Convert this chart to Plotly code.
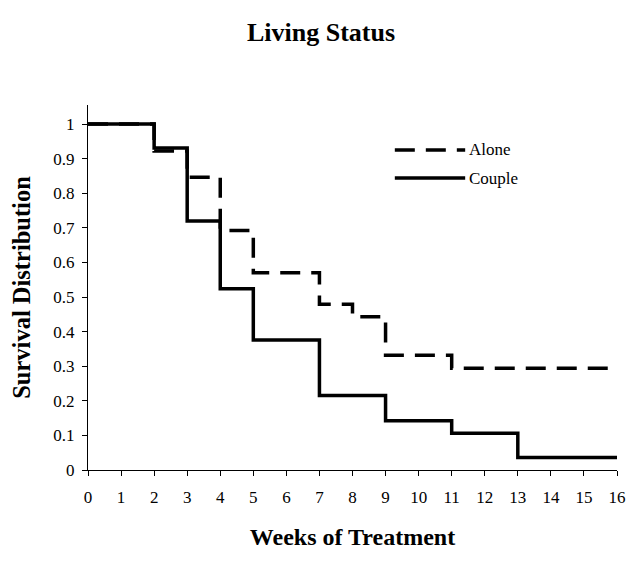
import plotly.graph_objects as go

weeks_alone = [0, 2, 3, 4, 5, 7, 8, 9, 11, 16]
surv_alone = [1.0, 0.922, 0.846, 0.692, 0.570, 0.479, 0.443, 0.332, 0.294, 0.294]
weeks_couple = [0, 2, 3, 4, 5, 7, 9, 11, 13, 16]
surv_couple = [1.0, 0.931, 0.720, 0.524, 0.376, 0.215, 0.142, 0.106, 0.036, 0.036]

x_ticks = list(range(0, 17))
y_ticks = [0, 0.1, 0.2, 0.3, 0.4, 0.5, 0.6, 0.7, 0.8, 0.9, 1]
y_ticklabels = ["0", "0.1", "0.2", "0.3", "0.4", "0.5", "0.6", "0.7", "0.8", "0.9", "1"]

FONT = "Liberation Serif, Times New Roman, serif"

fig = go.Figure()
fig.add_trace(go.Scatter(x=weeks_alone, y=surv_alone, mode="lines", name="Alone",
                         line=dict(shape="hv", color="black", width=3.5, dash="20px,11px")))
fig.add_trace(go.Scatter(x=weeks_couple, y=surv_couple, mode="lines", name="Couple",
                         line=dict(shape="hv", color="black", width=3.5)))

# legend keys (decorative, in paper coordinates)
legend_items = [("Alone", "20px,11px", 0.877), ("Couple", "solid", 0.800)]
for name, dash, yp in legend_items:
    fig.add_shape(type="line", xref="paper", yref="paper", x0=0.58, x1=0.713, y0=yp, y1=yp,
                  line=dict(color="black", width=3.5, dash=dash))
    fig.add_annotation(text=name, xref="paper", yref="paper", x=0.716, y=yp, xanchor="left",
                       yanchor="middle", showarrow=False, font=dict(family=FONT, size=17, color="black"))

fig.update_layout(
    width=626, height=554,
    paper_bgcolor="white", plot_bgcolor="white",
    margin=dict(l=80, r=17, t=97, b=92),
    showlegend=False,
    title=dict(text="<b>Living Status</b>", x=0.5, xanchor="center", y=0.957, yanchor="middle",
               font=dict(family=FONT, size=26, color="black")),
    font=dict(family=FONT, color="black"),
    xaxis=dict(range=[0, 16], tickvals=x_ticks, ticks="outside", ticklen=5, tickwidth=1,
               tickcolor="black", showline=True, linecolor="black", linewidth=1,
               showgrid=False, zeroline=False, ticklabelstandoff=7, automargin=False,
               tickfont=dict(family=FONT, size=17, color="black"),
               title=dict(text="<b>Weeks of Treatment</b>", standoff=21,
                          font=dict(family=FONT, size=24, color="black"))),
    yaxis=dict(range=[0, 1.055], tickvals=y_ticks, ticktext=y_ticklabels, ticks="outside",
               ticklen=5, tickwidth=1, tickcolor="black", showline=True, linecolor="black",
               linewidth=1, showgrid=False, zeroline=False, ticklabelstandoff=4, automargin=False,
               tickfont=dict(family=FONT, size=17, color="black"),
               title=dict(text="<b>Survival Distribution</b>", standoff=22,
                          font=dict(family=FONT, size=24.5, color="black"))),
)

fig.write_html("out.html")
